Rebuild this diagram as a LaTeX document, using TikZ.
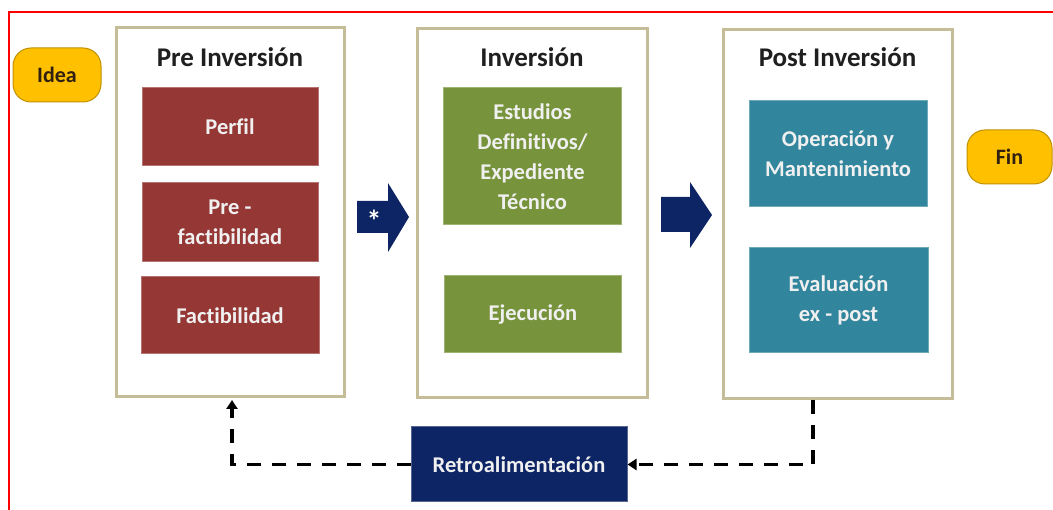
\documentclass[tikz,border=0pt]{standalone}
\usepackage{fontspec}
\setmainfont{Carlito}[Ligatures=NoCommon]
\usetikzlibrary{arrows.meta}

\definecolor{panelline}{HTML}{C4BD97}
\definecolor{prered}{HTML}{953735}
\definecolor{invgreen}{HTML}{77933C}
\definecolor{postteal}{HTML}{31859C}
\definecolor{navy}{HTML}{0E2565}
\definecolor{ideagold}{HTML}{FFC000}

\begin{document}
\begin{tikzpicture}[x=1pt,y=-1pt,
		panel/.style={draw=panelline, line width=3pt, fill=white, minimum width=#1, minimum height=369pt, inner sep=0pt},
		title/.style={font=\bfseries\fontsize{27}{32}\selectfont, text=black!88},
		stage/.style={fill=#1, draw=#1!70!white, line width=1pt, text=white!94!black, align=center,
			font=\bfseries\fontsize{22.5}{30}\selectfont, inner sep=0pt},
		pill/.style={fill=ideagold, draw=ideagold!75!black, line width=1pt, rounded corners=18pt,
			text=black!75!brown, font=\bfseries\fontsize{22}{26}\selectfont, inner sep=0pt},
		feedback/.style={dash pattern=on 14pt off 11pt, line width=3.5pt}]
	\useasboundingbox (0,0) rectangle (1053,510);
	% Frame
	\draw[red, line width=1.5pt] (9,515) -- (9,12) -- (1058,12);
	% Start and end
	\node[pill, minimum width=88pt, minimum height=54pt] (idea) at (57,75) {Idea};
	\node[pill, minimum width=85pt, minimum height=54pt] (fin) at (1009.5,157) {Fin};
	% Pre inversion
	\node[panel=228pt] (pre) at (230,212.5) {};
	\node[title] (pretitle) at (230,57) {Pre Inversión};
	\node[stage=prered, minimum width=176pt, minimum height=78pt] (perfil) at (230,127) {Perfil};
	\node[stage=prered, minimum width=176pt, minimum height=79pt] (prefact) at (230,222.5) {Pre -\\factibilidad};
	\node[stage=prered, minimum width=178pt, minimum height=77pt] (fact) at (230,315.5) {Factibilidad};
	% Inversion
	\node[panel=230pt] (inv) at (532,213) {};
	\node[title] (invtitle) at (532,57) {Inversión};
	\node[stage=invgreen, minimum width=178pt, minimum height=137pt] (estudios) at (532.5,156.5) {Estudios\\Definitivos/\\Expediente\\Técnico};
	\node[stage=invgreen, minimum width=177pt, minimum height=77pt] (ejec) at (533,314.5) {Ejecución};
	% Post inversion
	\node[panel=229pt] (post) at (837.5,214) {};
	\node[title] (posttitle) at (837.5,57) {Post Inversión};
	\node[stage=postteal, minimum width=178pt, minimum height=106pt] (oper) at (838,154) {Operación y\\Mantenimiento};
	\node[stage=postteal, minimum width=179pt, minimum height=105pt] (eval) at (838.5,300.5) {Evaluación\\ex - post};
	% Block arrows between phases
	\fill[navy] (357,201) -- (388,201) -- (388,183) -- (409,217) -- (388,252) -- (388,233) -- (357,233) -- cycle;
	\node[text=white, font=\bfseries\fontsize{30}{30}\selectfont] (star) at (374,221) {*};
	\fill[navy] (661,197) -- (690,197) -- (690,182) -- (712,215) -- (690,248) -- (690,232) -- (661,232) -- cycle;
	% Feedback
	\node[stage=navy, minimum width=216pt, minimum height=75pt] (retro) at (519,464.5) {Retroalimentación};
	\coordinate (postout) at (813,400);
	\coordinate (prein) at (232,400);
	\draw[feedback, -{Triangle[length=9pt,width=11pt]}] (postout) |- (retro.east);
	\draw[feedback, -{Triangle[length=9pt,width=11pt]}] (retro.west) -| (prein);
\end{tikzpicture}
\end{document}
